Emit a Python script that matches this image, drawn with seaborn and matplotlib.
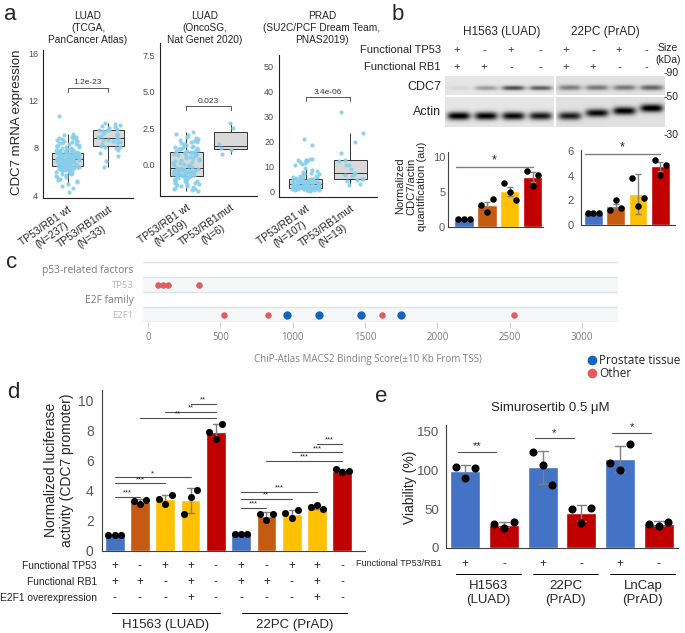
import numpy as np
import pandas as pd
import matplotlib.pyplot as plt
import matplotlib.transforms as mtransforms
from matplotlib.lines import Line2D
import seaborn as sns

# ---------------- data ----------------
# a: CDC7 mRNA expression per cohort
tcga_wt = [4.3, 4.6, 4.8, 4.95, 5.1, 5.2, 5.3, 5.4, 5.5, 5.55, 5.6, 5.7, 5.75, 5.8, 5.85, 5.9, 5.95, 6.0, 6.05,
           6.1, 6.1, 6.15, 6.2, 6.2, 6.25, 6.3, 6.3, 6.33, 6.35, 6.38, 6.4, 6.42, 6.44, 6.46, 6.47, 6.48, 6.5,
           6.5, 6.52, 6.54, 6.56, 6.58, 6.6, 6.62, 6.64, 6.66, 6.68, 6.7, 6.71, 6.72, 6.74, 6.76, 6.78, 6.8, 6.81,
           6.82, 6.84, 6.86, 6.88, 6.9, 6.91, 6.92, 6.94, 6.95, 6.96, 6.97, 6.98, 6.99, 7.0, 7.0, 7.01, 7.02, 7.03,
           7.04, 7.05, 7.06, 7.07, 7.08, 7.1, 7.11, 7.12, 7.14, 7.15, 7.16, 7.18, 7.2, 7.21, 7.22, 7.24, 7.26, 7.28,
           7.3, 7.31, 7.32, 7.34, 7.36, 7.38, 7.4, 7.41, 7.42, 7.44, 7.46, 7.48, 7.5, 7.51, 7.52, 7.54, 7.55, 7.56,
           7.57, 7.58, 7.59, 7.6, 7.62, 7.65, 7.68, 7.7, 7.73, 7.76, 7.8, 7.83, 7.86, 7.9, 7.93, 7.96, 8.0, 8.04,
           8.08, 8.12, 8.16, 8.2, 8.25, 8.3, 8.35, 8.4, 8.45, 8.5, 8.55, 8.6, 8.65, 8.7, 8.75, 8.8, 8.85, 8.9, 8.95,
           9.0, 9.1, 9.2, 10.7]
tcga_mut = [6.4, 6.9, 7.3, 7.6, 7.8, 7.95, 8.05, 8.1, 8.2, 8.3, 8.4, 8.5, 8.6, 8.65, 8.7, 8.75, 8.8, 8.9, 9.0,
            9.1, 9.2, 9.3, 9.4, 9.5, 9.5, 9.55, 9.6, 9.7, 9.8, 9.85, 9.9, 10.0, 10.1]
onco_wt = [-1.85, -1.8, -1.75, -1.7, -1.65, -1.6, -1.55, -1.5, -1.45, -1.42, -1.38, -1.35, -1.3, -1.27, -1.23,
           -1.2, -1.17, -1.13, -1.1, -1.06, -1.03, -1.0, -0.97, -0.93, -0.9, -0.86, -0.83,
           -0.82, -0.8, -0.78, -0.76, -0.74, -0.72, -0.7, -0.68, -0.66, -0.64, -0.62, -0.6, -0.58, -0.56, -0.54,
           -0.52, -0.5, -0.48, -0.46, -0.44, -0.42, -0.41, -0.4, -0.39, -0.38, -0.37, -0.35,
           -0.3, -0.25, -0.2, -0.15, -0.1, -0.05, 0.0, 0.05, 0.1, 0.15, 0.2, 0.25, 0.3, 0.35, 0.4, 0.45, 0.5,
           0.55, 0.6, 0.63, 0.66, 0.7, 0.73, 0.76, 0.79, 0.81, 0.83,
           0.86, 0.9, 0.93, 0.96, 1.0, 1.03, 1.06, 1.1, 1.13, 1.16, 1.2, 1.23, 1.26, 1.3, 1.35, 1.4, 1.45, 1.5,
           1.55, 1.6, 1.65, 1.7, 1.75, 1.8, 1.9, 2.0, 2.1, 2.2]
onco_mut = [0.7, 1.0, 1.1, 1.4, 2.53, 2.85]
prad_wt = [0.2, 0.3, 0.35, 0.4, 0.45, 0.5, 0.55, 0.6, 0.62, 0.65, 0.7, 0.72, 0.75, 0.8, 0.85, 0.88, 0.9, 0.95,
           1.0, 1.02, 1.05, 1.1, 1.15, 1.2, 1.22, 1.25, 1.3,
           1.35, 1.4, 1.45, 1.5, 1.55, 1.6, 1.65, 1.7, 1.75, 1.8, 1.85, 1.9, 1.95, 2.0, 2.05, 2.1, 2.15, 2.2,
           2.25, 2.3, 2.35, 2.4, 2.5, 2.55, 2.6, 2.7,
           2.75, 2.8, 2.9, 3.0, 3.1, 3.2, 3.25, 3.3, 3.4, 3.5, 3.55, 3.6, 3.7, 3.8, 3.9, 4.0, 4.1, 4.15, 4.2,
           4.3, 4.4, 4.5, 4.55, 4.6, 4.7, 4.75, 4.8,
           5.0, 5.2, 5.4, 5.6, 5.8, 6.0, 6.2, 6.4, 6.7, 7.0, 7.3, 7.6, 8.0, 8.5, 9.3, 10.4, 10.8, 11.2, 11.6,
           12.0, 12.3, 12.5, 12.6, 12.8, 13.0, 18.5, 21.0]
prad_mut = [2.4, 3.0, 4.0, 4.5, 4.7, 4.9, 6.0, 6.5, 7.0, 7.2, 9.0, 10.3, 10.6, 12.0, 12.6, 15.3, 19.6, 23.3, 31.6]

a_titles = ["LUAD\n(TCGA,\nPanCancer Atlas)", "LUAD\n(OncoSG,\nNat Genet 2020)",
            "PRAD\n(SU2C/PCF Dream Team,\nPNAS2019)"]
a_xlabels = [["TP53/RB1 wt\n(N=237)", "TP53/RB1mut\n(N=33)"],
             ["TP53/RB1 wt\n(N=109)", "TP53/RB1mut\n(N=6)"],
             ["TP53/RB1 wt\n(N=107)", "TP53/RB1mut\n(N=19)"]]
a_pvals = ["1.2e-23", "0.023", "3.4e-06"]
a_bracket_y = [13.1, 4.03, 37.6]
a_yticks = [[4, 8, 12, 16], [0.0, 2.5, 5.0, 7.5], [0, 10, 20, 30, 40, 50]]
a_yticklabels = [["4", "8", "12", "16"], ["0.0", "2.5", "5.0", "7.5"], ["0", "10", "20", "30", "40", "50"]]

# b: western blot + quantification
b_cells = ["H1563 (LUAD)", "22PC (PrAD)"]
b_tp53 = ["+", "-", "+", "-", "+", "-", "+", "-"]
b_rb1 = ["+", "+", "-", "-", "+", "+", "-", "-"]
b_sizes = ["-90", "-50", "-30"]
cdc7_h1563 = [0.06, 0.3, 0.62, 0.55]
cdc7_22pc = [0.4, 0.42, 0.42, 0.5]
actin_h1563 = [0.95, 0.92, 0.88, 0.82]
actin_22pc = [0.78, 0.86, 0.9, 0.95]
b_h1563_reps = [[1.15, 1.15, 1.15], [3.1, 2.2, 4.0], [6.3, 5.0, 3.9], [8.0, 5.9, 7.4]]
b_h1563_err = [0.05, 0.5, 0.65, 0.75]
b_22pc_reps = [[1.0, 1.0, 1.0], [1.23, 2.04, 1.36], [3.8, 1.57, 2.2], [5.28, 4.1, 4.9]]
b_22pc_err = [0.05, 0.2, 1.6, 0.35]
b_sig_y = [8.6, 5.8]

# c: ChIP-Atlas binding scores
c_rows = ["p53-related factors", "TP53", "E2F family", "E2F1"]
tp53_other = [69, 103, 138, 352]
e2f1_other = [524, 827, 1620, 2531]
e2f1_prostate = [959, 1180, 1469, 1752]
c_xticks = [0, 500, 1000, 1500, 2000, 2500, 3000]

# d: luciferase reporter
d_reps = [[1.05, 1.05, 1.05], [3.35, 3.1, 3.4], [3.47, 3.1, 3.7], [2.45, 3.6, 4.05], [7.9, 7.45, 8.45],
          [1.1, 1.1, 1.1], [2.47, 2.07, 2.47], [2.53, 2.2, 2.73], [2.9, 3.07, 2.8], [5.45, 5.25, 5.33]]
d_tp53 = ["+", "-", "+", "+", "-", "+", "-", "+", "+", "-"]
d_rb1 = ["+", "+", "-", "+", "-", "+", "+", "-", "+", "-"]
d_e2f1 = ["-", "-", "-", "+", "-", "-", "-", "-", "+", "-"]
d_rowlabels = ["Functional TP53", "Functional RB1", "E2F1 overexpression"]
d_groups = ["H1563 (LUAD)", "22PC (PrAD)"]
d_sig = [(0, 1, 3.6, "***"), (0, 2, 4.5, "***"), (0, 3, 4.9, "*"),
         (1, 4, 8.87, "**"), (2, 4, 9.27, "**"), (3, 4, 9.8, "**"),
         (5, 6, 2.87, "***"), (5, 7, 3.47, "**"), (5, 8, 3.93, "***"),
         (6, 9, 6.0, "***"), (7, 9, 6.55, "***"), (8, 9, 7.13, "***")]

# e: viability
e_reps = [[103.7, 90.0, 103.0], [30.6, 26.2, 33.2], [123.6, 106.3, 81.4],
          [50.0, 32.7, 52.0], [109.4, 100.7, 133.0], [31.4, 28.4, 34.0]]
e_sign = ["+", "-", "+", "-", "+", "-"]
e_groups = ["H1563\n(LUAD)", "22PC\n(PrAD)", "LnCap\n(PrAD)"]
e_sig = [(0, 1, 123.6, "**"), (2, 3, 140.8, "*"), (4, 5, 148.0, "*")]

# ---------------- style ----------------
BLUE, ORANGE, YELLOW, RED = "#4472c4", "#c55a11", "#ffc000", "#c00000"
W, H = 685, 633

sns.set_style("white")
plt.rcParams["font.family"] = ["Liberation Sans", "DejaVu Sans"]
OPEN = ["Open Sans", "DejaVu Sans"]

fig = plt.figure(figsize=(W / 100, H / 100), dpi=100)


def box_px(x0, y0, x1, y1):
    return fig.add_axes([x0 / W, 1 - y1 / H, (x1 - x0) / W, (y1 - y0) / H])


def txt(x, y, s, **kw):
    kw.setdefault("ha", "center")
    kw.setdefault("va", "center")
    return fig.text(x / W, 1 - y / H, s, **kw)


# panel letters
for letter, x, y in [("a", 10, 15), ("b", 398, 15), ("c", 12, 263), ("d", 13, 392), ("e", 381, 397)]:
    txt(x, y, letter, fontsize=16)

# ---------------- a ----------------
a_boxes = [(43, 50, 133, 198), (160, 43, 257, 196), (279, 55, 377, 197)]
a_ylims = [(3.75, 16.3), (-2.22, 8.4), (-2.4, 54.5)]
a_tick_h = [0.4, 0.25, 1.5]
a_title_x = [88, 205, 322]
a_data = [(tcga_wt, tcga_mut), (onco_wt, onco_mut), (prad_wt, prad_mut)]

np.random.seed(3)
for k in range(3):
    ax = box_px(*a_boxes[k])
    wt, mut = a_data[k]
    df = pd.DataFrame({"grp": ["wt"] * len(wt) + ["mut"] * len(mut), "val": list(wt) + list(mut)})
    sns.boxplot(data=df, x="grp", y="val", order=["wt", "mut"], color="#d9d9d9", linecolor="#333333",
                linewidth=0.7, width=0.75, showfliers=False, capprops={"linewidth": 0}, ax=ax)
    sns.stripplot(data=df, x="grp", y="val", order=["wt", "mut"], color="#87ceeb", size=3,
                  jitter=0.3, alpha=0.9, linewidth=0, ax=ax, zorder=3)
    ax.set_xlim(-0.6, 1.6)
    ax.set_ylim(*a_ylims[k])
    ax.set_yticks(a_yticks[k])
    ax.set_yticklabels(a_yticklabels[k])
    ax.set_xticks([0, 1])
    ax.set_xticklabels(a_xlabels[k], rotation=35, ha="right", rotation_mode="anchor",
                       multialignment="center", fontsize=7.5)
    ax.set_xlabel("")
    ax.set_ylabel("")
    sns.despine(ax=ax)
    for s in ["left", "bottom"]:
        ax.spines[s].set_color("#222222")
        ax.spines[s].set_linewidth(0.8)
    ax.tick_params(axis="y", length=2.5, width=0.6, color="#333333", labelsize=6.5, labelcolor="#4d4d4d", pad=1)
    ax.tick_params(axis="x", length=2.5, width=0.6, color="#333333", pad=2)
    by, th = a_bracket_y[k], a_tick_h[k]
    ax.plot([0, 0, 1, 1], [by - th, by, by, by - th], color="#555555", lw=0.7)
    ax.text(0.5, by + th * 0.4, a_pvals[k], ha="center", va="bottom", fontsize=6, color="#333333")
    txt(a_title_x[k], 28, a_titles[k], fontsize=7.3, linespacing=1.3)

txt(17, 122, "CDC7 mRNA expression", rotation=90, fontsize=9.5)

# ---------------- b ----------------
txt(502, 32, b_cells[0], fontsize=8.5)
txt(605, 32, b_cells[1], fontsize=8.5)
txt(441, 50, "Functional TP53", ha="right", fontsize=8)
txt(441, 67, "Functional RB1", ha="right", fontsize=8)
lane_x = [457, 484, 511, 540, 566, 593, 619, 646]
for xl, s1, s2 in zip(lane_x, b_tp53, b_rb1):
    txt(xl, 50, s1, fontsize=8)
    txt(xl, 67, s2, fontsize=8)
txt(668, 54, "Size\n(kDa)", fontsize=7.5, linespacing=1.15)
for lab, yy in zip(b_sizes, [73, 97, 135]):
    txt(664, yy, lab, ha="left", fontsize=7.5)
txt(441, 87, "CDC7", ha="right", fontsize=9)
txt(441, 112, "Actin", ha="right", fontsize=9)


def blot(rect, dark, ypos, bg, thick):
    ax = box_px(*rect)
    h, w = 40, 200
    yy, xx = np.mgrid[0:h, 0:w]
    img = np.full((h, w), bg, dtype=float)
    lane = w / len(dark)
    for i, (d, yc) in enumerate(zip(dark, ypos)):
        cx = (i + 0.5) * lane
        img -= d * np.exp(-np.abs((xx - cx) / (0.42 * lane)) ** 4 - ((yy - yc * h) / (thick * h)) ** 2)
    ax.imshow(np.clip(img, 0, 1), cmap="gray", vmin=0, vmax=1, aspect="auto", interpolation="bilinear")
    ax.set_axis_off()


blot((445, 76, 554, 95), cdc7_h1563, [0.62] * 4, 0.9, 0.12)
blot((556, 76, 665, 95), cdc7_22pc, [0.6] * 4, 0.88, 0.14)
blot((445, 97, 554, 127), actin_h1563, [0.62] * 4, 0.9, 0.13)
blot((556, 97, 665, 127), actin_22pc, [0.62, 0.52, 0.45, 0.36], 0.88, 0.13)

offs3 = np.array([-0.25, 0.0, 0.25])


def bars(ax, reps, colors, errorbar, width, dot_s):
    keys = [f"k{i}" for i in range(len(reps))]
    df = pd.DataFrame({"cond": np.repeat(keys, 3), "val": np.concatenate(reps)})
    sns.barplot(data=df, x="cond", y="val", hue="cond", order=keys, hue_order=keys,
                palette=dict(zip(keys, colors)), saturation=1, width=width, errorbar=errorbar,
                capsize=0.25, err_kws={"color": "#7f7f7f", "linewidth": 1.0}, legend=False, ax=ax)
    for i, r in enumerate(reps):
        ax.scatter(i + offs3, r, s=dot_s, color="black", zorder=5, linewidths=0)
    return df


def style_bar_ax(ax, ylim, yticks, fs, pad):
    ax.set_ylim(*ylim)
    ax.set_yticks(yticks)
    ax.set_xticks([])
    ax.set_xlabel("")
    ax.set_ylabel("")
    sns.despine(ax=ax)
    for s in ["left", "bottom"]:
        ax.spines[s].set_color("#404040")
        ax.spines[s].set_linewidth(0.8)
    ax.tick_params(axis="y", length=0, labelsize=fs, labelcolor="#595959", pad=pad)


b_cols = [BLUE, ORANGE, YELLOW, RED]
for rect, reps, err, xlim, ylim, yt, pad, sy in [
        ((448, 152, 543, 227), b_h1563_reps, b_h1563_err, (-0.7, 3.45), (0, 10.7), [0, 5, 10], 2, b_sig_y[0]),
        ((581, 150, 675, 225), b_22pc_reps, b_22pc_err, (-0.55, 3.65), (0, 6.1), [0, 2, 4, 6], 5, b_sig_y[1])]:
    ax = box_px(*rect)
    df = bars(ax, reps, b_cols, None, 0.84, 22)
    means = df.groupby("cond", sort=False)["val"].mean().values
    ax.errorbar(np.arange(4), means, yerr=err, fmt="none", ecolor="#7f7f7f", elinewidth=1, capsize=2.5, zorder=4)
    ax.set_xlim(*xlim)
    style_bar_ax(ax, ylim, yt, 8, pad)
    ax.plot([-0.35, 3.0], [sy, sy], color="#7f7f7f", lw=1)
    ax.text(1.3, sy, "*", ha="center", va="bottom", fontsize=9)

txt(411, 186, "Normalized\nCDC7/actin\nquantification (au)", rotation=90, fontsize=8, linespacing=1.1)

# ---------------- c ----------------
axc = box_px(143, 262, 618, 322)
x_per_px = 3000 / (582 - 148)
axc.set_xlim(-(148 - 143) * x_per_px, 3000 + (618 - 582) * x_per_px)
axc.set_ylim(3.5, -0.5)
for r in [1, 3]:
    axc.axhspan(r - 0.5, r + 0.5, color="#f4f6f8", lw=0, zorder=0)
for yl in [-0.5, 0.5, 1.5, 2.5, 3.5]:
    axc.axhline(yl, color="#e0e4e8", lw=1, zorder=1)
axc.scatter(tp53_other, [1] * len(tp53_other), s=22, color="#e35d5d", linewidths=0, zorder=3)
axc.scatter(e2f1_other, [3] * len(e2f1_other), s=22, color="#e35d5d", linewidths=0, zorder=3)
axc.scatter(e2f1_prostate, [3] * len(e2f1_prostate), s=36, color="#1565c0", linewidths=0, zorder=3)
for s in axc.spines.values():
    s.set_visible(False)
axc.set_yticks(range(4))
axc.set_yticklabels(c_rows)
for i, lab in enumerate(axc.get_yticklabels()):
    if i % 2 == 0:
        lab.set_fontsize(7.4)
        lab.set_color("#7a7a7a")
    else:
        lab.set_fontsize(6.8)
        lab.set_color("#b5b5b5")
    lab.set_family(OPEN)
axc.tick_params(axis="y", length=0, pad=7)
axc.set_xticks(c_xticks)
axc.tick_params(axis="x", length=4, width=0.8, color="#d0d0d0", labelsize=7, labelcolor="#7a7a7a", pad=3,
                bottom=True)
for lab in axc.get_xticklabels():
    lab.set_family(OPEN)
txt(368, 359, "ChiP-Atlas MACS2 Binding Score(\u00b110 Kb From TSS)", fontsize=7, color="#808080", family=OPEN)
leg_handles = [Line2D([], [], marker="o", ls="", color="#1565c0", markersize=6, label="Prostate tissue"),
               Line2D([], [], marker="o", ls="", color="#e35d5d", markersize=6, label="Other")]
fig.legend(handles=leg_handles, loc="upper left", bbox_to_anchor=(580 / W, 1 - 349 / H), frameon=False,
           handletextpad=0.05, labelspacing=0.05, borderaxespad=0, handlelength=1.2,
           prop={"family": OPEN, "size": 8.5})

# ---------------- d ----------------
axd = box_px(102, 390, 365, 551)
d_cols = [BLUE, ORANGE, YELLOW, YELLOW, RED] * 2
bars(axd, d_reps, d_cols, "sd", 0.78, 26)
axd.set_xlim(-0.5, 9.9)
style_bar_ax(axd, (0, 10.7), [0, 2, 4, 6, 8, 10], 10, 6)
for i0, i1, yy, lab in d_sig:
    axd.plot([i0, i1], [yy, yy], color="#505050", lw=0.8)
    axd.text((i0 + i1) / 2, yy + 0.02, lab, ha="center", va="bottom", fontsize=5.5)
txt(59, 470, "Normalized luciferase\nactivity (CDC7 promoter)", rotation=90, fontsize=10, linespacing=1.1)
trd = mtransforms.blended_transform_factory(axd.transData, fig.transFigure)
for row, (lab, signs) in enumerate(zip(d_rowlabels, [d_tp53, d_rb1, d_e2f1])):
    yy = 566 + 16 * row
    txt(97, yy, lab, ha="right", fontsize=7.4)
    for i, s in enumerate(signs):
        fig.text(i, 1 - yy / H, s, transform=trd, ha="center", va="center", fontsize=8.5)
for (x0, x1), lab in zip([(-0.12, 4.16), (5.03, 9.2)], d_groups):
    fig.add_artist(Line2D([x0, x1], [1 - 613 / H] * 2, transform=trd, color="black", lw=0.7))
    fig.text((x0 + x1) / 2, 1 - 625 / H, lab, transform=trd, ha="center", va="center", fontsize=9.5)

# ---------------- e ----------------
txt(550, 408, "Simurosertib 0.5 \u03bcM", fontsize=9.5)
axe = box_px(446, 425, 678, 548)
bars(axe, e_reps, [BLUE, RED] * 3, "sd", 0.78, 34)
axe.set_xlim(-0.5, 5.5)
style_bar_ax(axe, (0, 158), [0, 50, 100, 150], 9.5, 5)
for i0, i1, yy, lab in e_sig:
    axe.plot([i0 - 0.2, i1 - 0.2], [yy, yy], color="#505050", lw=0.8)
    axe.text((i0 + i1) / 2 - 0.2, yy + 0.5, lab, ha="center", va="bottom", fontsize=8)
txt(410, 487, "Viability (%)", rotation=90, fontsize=10)
tre = mtransforms.blended_transform_factory(axe.transData, fig.transFigure)
txt(442, 564, "Functional TP53/RB1", ha="right", fontsize=6.5)
for i, s in enumerate(e_sign):
    fig.text(i, 1 - 564 / H, s, transform=tre, ha="center", va="center", fontsize=8.5)
for k, lab in enumerate(e_groups):
    x0, x1 = 2 * k - 0.25, 2 * k + 1.43
    fig.add_artist(Line2D([x0, x1], [1 - 574 / H] * 2, transform=tre, color="black", lw=0.7))
    fig.text((x0 + x1) / 2, 1 - 593 / H, lab, transform=tre, ha="center", va="center", fontsize=9.5,
             linespacing=1.15)

fig.savefig("out.png", dpi=100)
